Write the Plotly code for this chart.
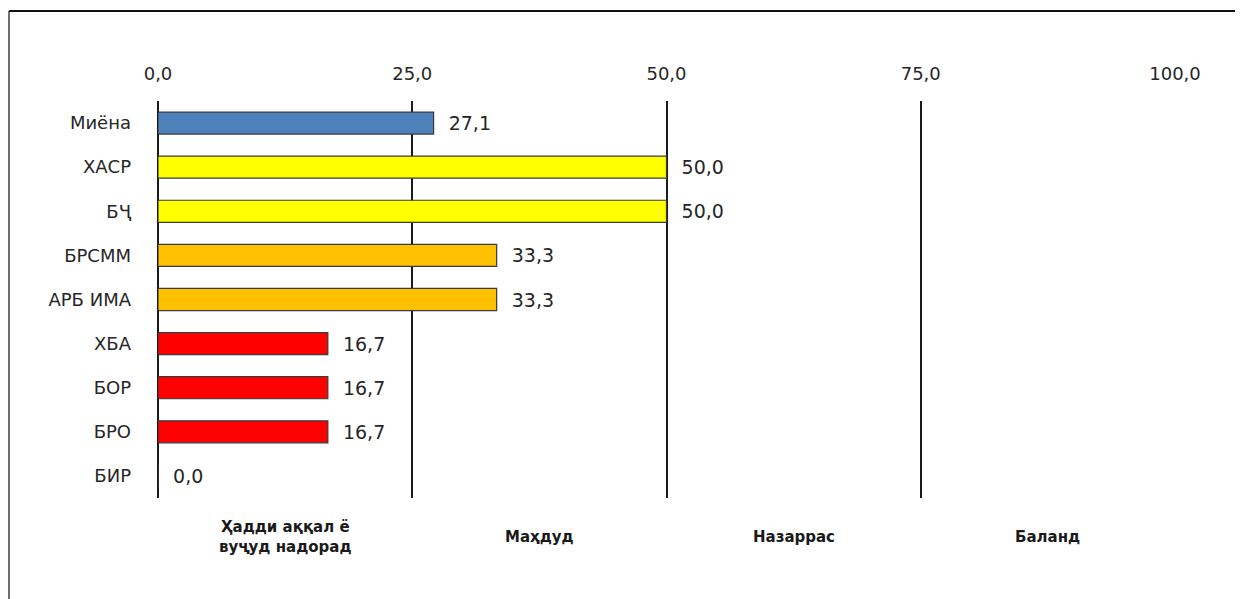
import plotly.graph_objects as go

categories = ["Миёна", "ХАСР", "БҶ", "БРСММ", "АРБ ИМА", "ХБА", "БОР", "БРО", "БИР"]
values = [27.1, 50.0, 50.0, 33.3, 33.3, 16.7, 16.7, 16.7, 0.0]
bar_colors = ["#4F81BD", "#FFFF00", "#FFFF00", "#FFC000", "#FFC000",
              "#FF0000", "#FF0000", "#FF0000", "#FF0000"]
tick_vals = [0, 25, 50, 75, 100]
tick_text = ["0,0", "25,0", "50,0", "75,0", "100,0"]
zone_centers = [12.5, 37.5, 62.5, 87.5]
zone_labels = ["Ҳадди аққал ё<br>вуҷуд надорад", "Маҳдуд", "Назаррас", "Баланд"]

labels = ["  " + f"{v:.1f}".replace(".", ",") for v in values]

OFF = 8  # browser default body margin
W, H = 1243 - OFF, 599 - OFF
L = 158 - OFF
T = 101 - OFF
R = (W + OFF) - 1175
B = (H + OFF) - 498
pw, ph = W - L - R, H - T - B

fig = go.Figure()
fig.add_trace(go.Bar(
    x=values, y=categories, orientation="h",
    marker=dict(color=bar_colors, line=dict(color="#3a3a3a", width=1.2)),
    width=0.5,
    text=labels, textposition="outside", cliponaxis=False,
    textfont=dict(family="DejaVu Sans", size=19, color="#262626"),
    hoverinfo="skip",
))

for xc, lab in zip(zone_centers, zone_labels):
    fig.add_annotation(
        x=xc, xref="x", y=(498 - 537) / ph, yref="paper", text=lab, showarrow=False,
        font=dict(family="DejaVu Sans", size=15, color="#1a1a1a", weight="bold"),
        align="center", xanchor="center", yanchor="middle",
    )

# outer frame (top and left edges visible)
x_left = (9 - 158) / pw
y_top = 1 + (101 - 11) / ph
fig.add_shape(type="line", xref="paper", yref="paper", x0=x_left, x1=1.2,
              y0=y_top, y1=y_top, line=dict(color="#111111", width=2))
fig.add_shape(type="line", xref="paper", yref="paper", x0=x_left, x1=x_left,
              y0=y_top, y1=-0.4, line=dict(color="#111111", width=1.2))

fig.update_layout(
    width=W, height=H,
    margin=dict(l=L, r=R, t=T, b=B, pad=0),
    paper_bgcolor="white", plot_bgcolor="white",
    showlegend=False,
    xaxis=dict(
        range=[0, 100], side="top", tickvals=tick_vals, ticktext=tick_text,
        showgrid=True, gridcolor="#1a1a1a", gridwidth=1.5,
        zeroline=True, zerolinecolor="#1a1a1a", zerolinewidth=1.5,
        showline=False, ticks="", ticklabelstandoff=16,
        tickfont=dict(family="DejaVu Sans", size=18, color="#262626"),
        fixedrange=True,
    ),
    yaxis=dict(
        autorange="reversed", showgrid=False, zeroline=False, showline=False,
        ticks="", ticklabelstandoff=26,
        tickfont=dict(family="DejaVu Sans", size=18, color="#262626"),
        fixedrange=True,
    ),
)

fig.write_html("out.html")
